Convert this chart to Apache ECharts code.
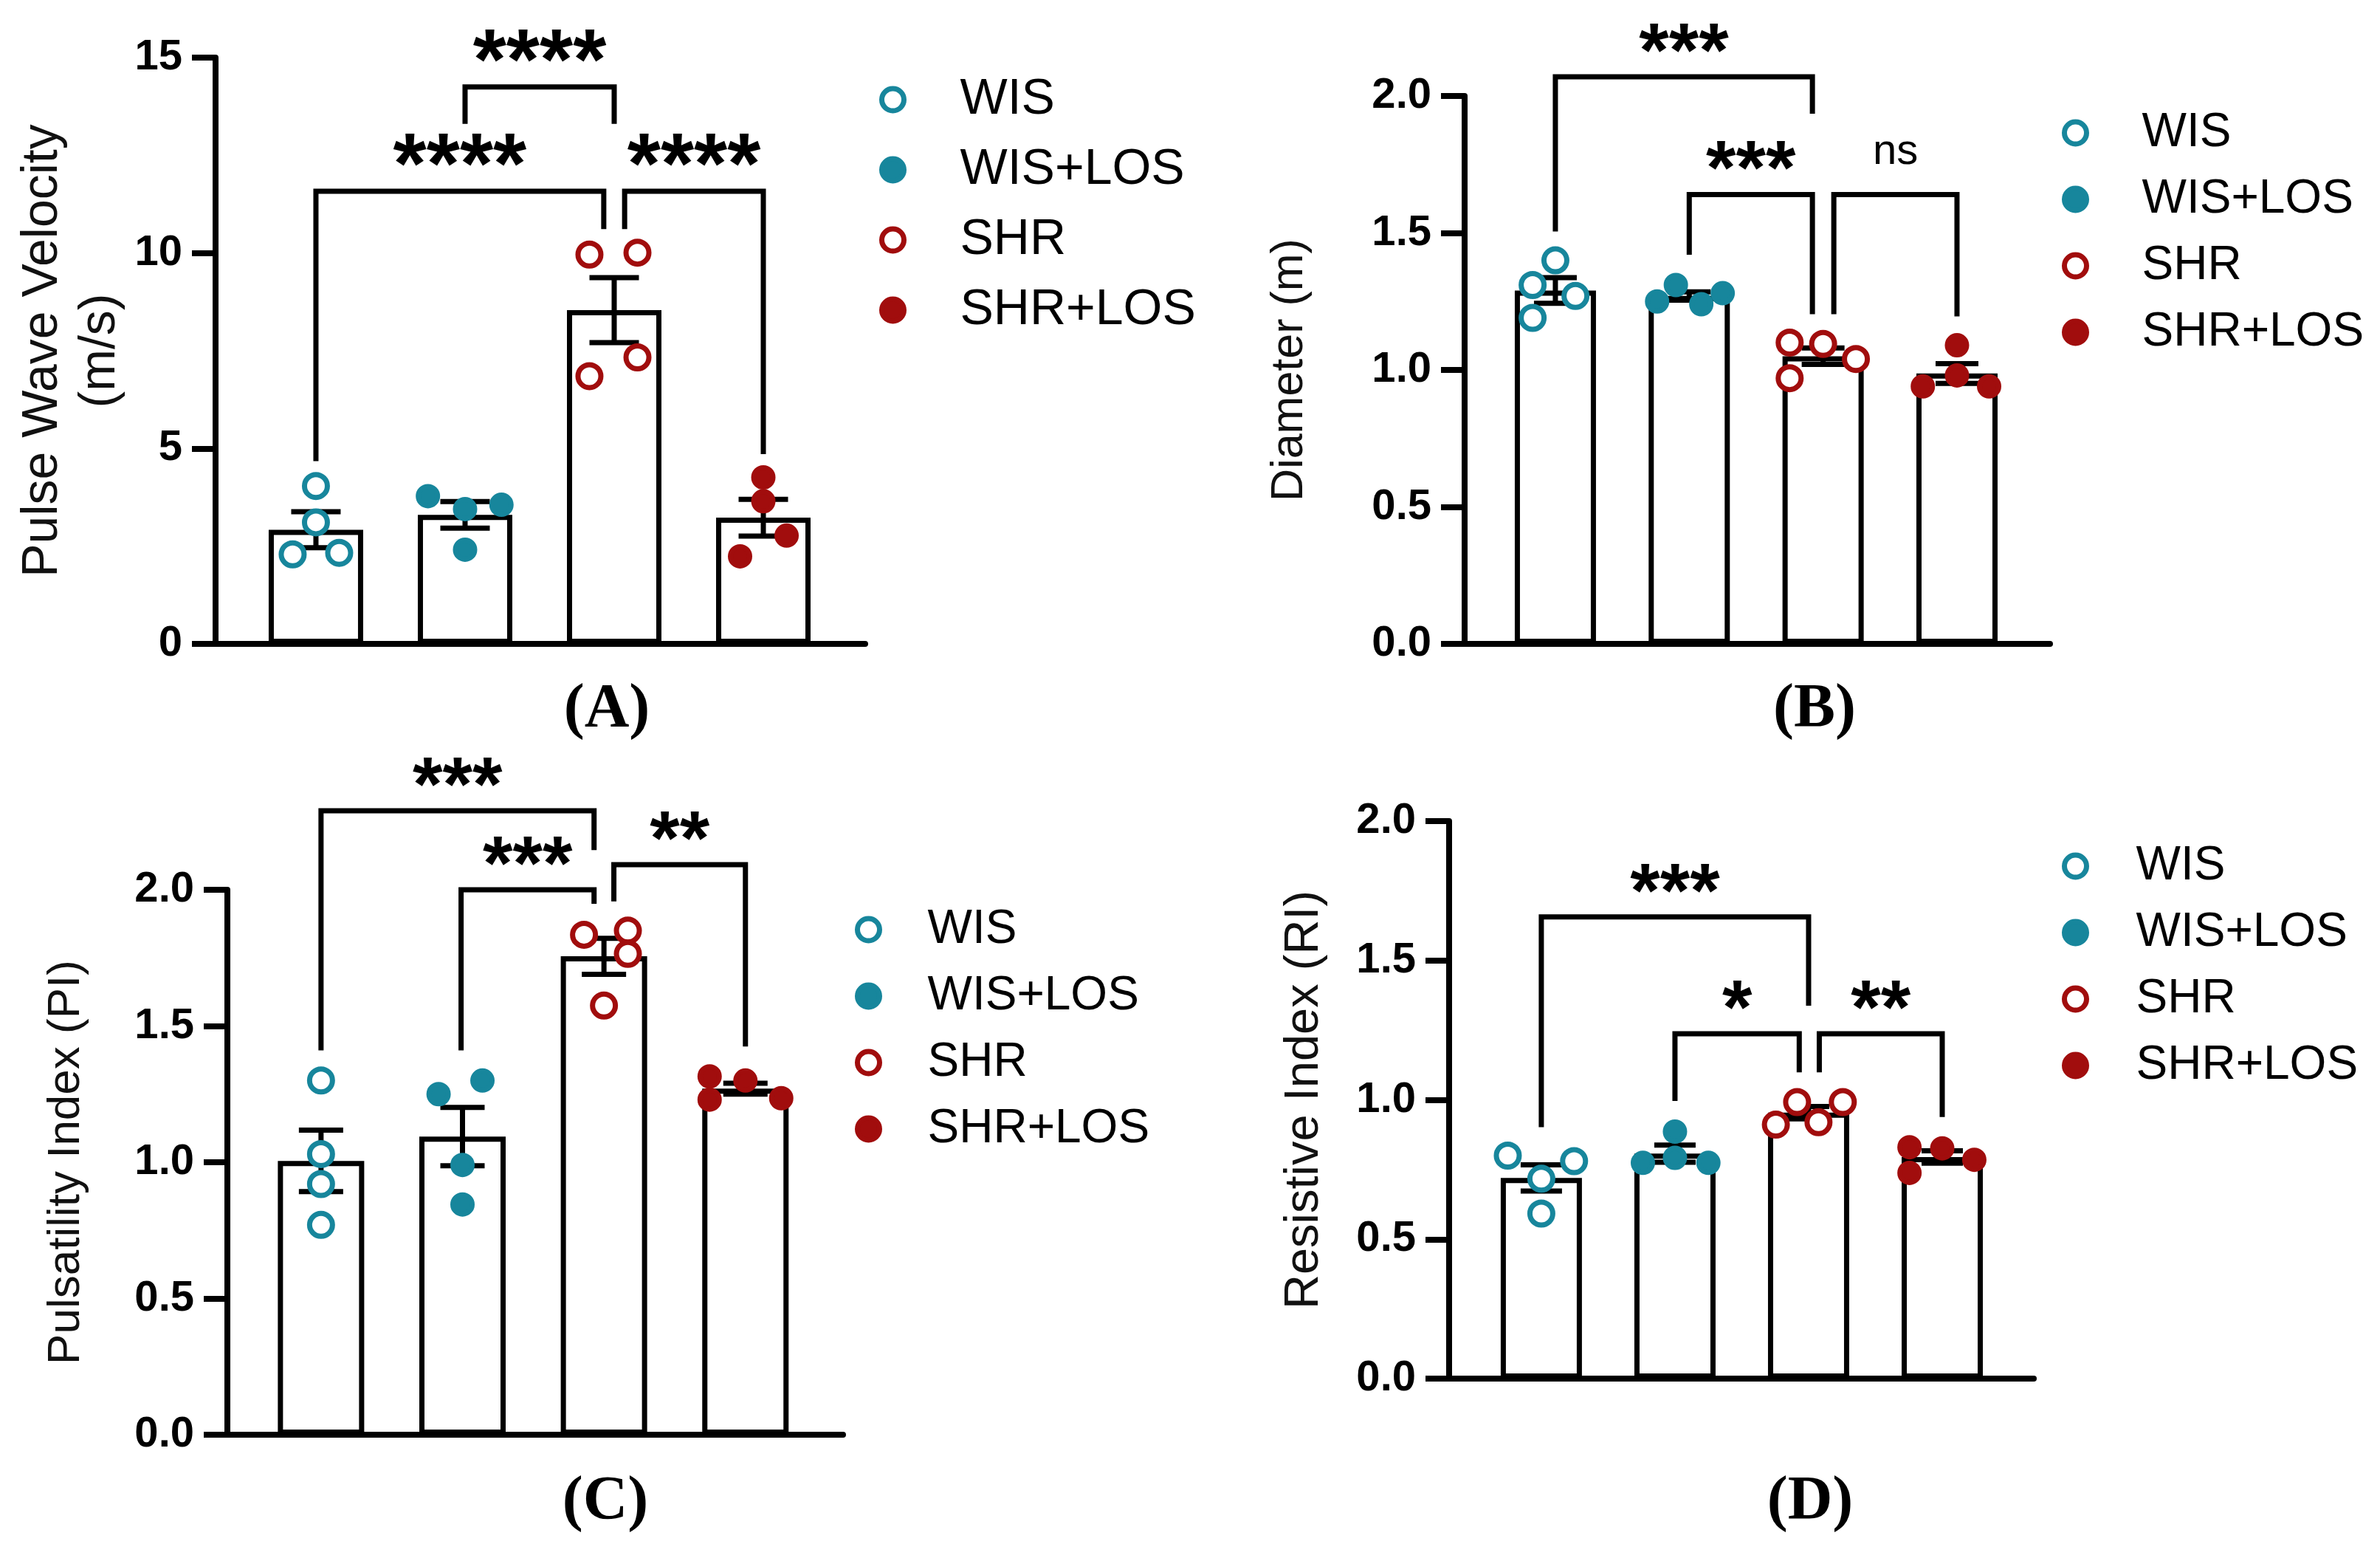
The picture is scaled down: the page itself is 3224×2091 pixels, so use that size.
<!DOCTYPE html>
<html>
<head>
<meta charset="utf-8">
<script src="https://cdn.jsdelivr.net/npm/echarts@6/dist/echarts.min.js"></script>
<style>
html,body{margin:0;padding:0;background:#fff;}
#chart{width:3224px;height:2091px;}
</style>
</head>
<body>
<div id="chart"></div>
<script>
// ---------- DATA ----------
const groups = ['WIS', 'WIS+LOS', 'SHR', 'SHR+LOS'];

// (A) Pulse Wave Velocity (m/s)
const pwvMean   = [2.92, 3.30, 8.54, 3.23];
const pwvSem    = [0.46, 0.34, 0.83, 0.47];
const pwvWIS    = [4.04, 3.11, 2.29, 2.33];
const pwvWISLOS = [3.78, 3.45, 3.56, 2.41];
const pwvSHR    = [9.96, 10.01, 7.33, 6.85];
const pwvSHRLOS = [4.26, 3.65, 2.77, 2.24];
const pwvTicks  = [0, 5, 10, 15];
const pwvComps  = [[1, 2, 14.25, 13.37, 13.37], [0, 1.93, 11.58, 4.74, 10.68], [2.07, 3, 11.58, 10.68, 4.92]];
const pwvLabels = ['****', '****', '****'];

// (B) Diameter (m)
const diaMean   = [1.29, 1.27, 1.05, 0.987];
const diaSem    = [0.047, 0.015, 0.03, 0.036];
const diaWIS    = [1.40, 1.31, 1.27, 1.19];
const diaWISLOS = [1.25, 1.31, 1.24, 1.28];
const diaSHR    = [1.10, 1.095, 1.04, 0.97];
const diaSHRLOS = [1.09, 0.98, 0.94, 0.94];
const diaTicks  = [0.0, 0.5, 1.0, 1.5, 2.0];
const diaComps  = [[0, 1.92, 2.07, 1.515, 1.945], [1, 1.92, 1.64, 1.43, 1.213], [2.08, 3, 1.64, 1.213, 1.205]];
const diaLabels = ['***', '***', 'ns'];

// (C) Pulsatility Index (PI)
const piMean   = [1.005, 1.094, 1.756, 1.27];
const piSem    = [0.113, 0.107, 0.066, 0.02];
const piWIS    = [1.30, 1.03, 0.92, 0.77];
const piWISLOS = [1.25, 1.30, 0.99, 0.845];
const piSHR    = [1.835, 1.85, 1.765, 1.575];
const piSHRLOS = [1.315, 1.30, 1.235, 1.23];
const piTicks  = [0.0, 0.5, 1.0, 1.5, 2.0];
const piComps  = [[0, 1.93, 2.29, 1.42, 2.155], [0.99, 1.93, 2.0, 1.42, 1.958], [2.07, 3, 2.092, 1.967, 1.434]];
const piLabels = ['***', '***', '**'];

// (D) Resistive Index (RI)
const riMean   = [0.72, 0.807, 0.954, 0.795];
const riSem    = [0.047, 0.031, 0.022, 0.022];
const riWIS    = [0.80, 0.78, 0.717, 0.592];
const riWISLOS = [0.886, 0.774, 0.792, 0.774];
const riSHR    = [0.992, 0.992, 0.911, 0.92];
const riSHRLOS = [0.83, 0.826, 0.785, 0.738];
const riTicks  = [0.0, 0.5, 1.0, 1.5, 2.0];
const riComps  = [[0, 2, 1.656, 0.911, 1.347], [1, 1.93, 1.237, 1.005, 1.108], [2.08, 3, 1.237, 1.108, 0.948]];
const riLabels = ['***', '*', '**'];

// horizontal scatter jitter of each point inside its group (category units)
const jitA = [[0, 0, -0.156, 0.156], [-0.249, 0, 0.244, 0], [-0.166, 0.156, 0.156, -0.166], [0, 0, 0.156, -0.156]];
const jitB = [[0, -0.17, 0.15, -0.17], [-0.24, -0.1, 0.09, 0.25], [-0.25, 0, 0.245, -0.25], [0, 0, -0.255, 0.24]];
const jitC = [[0, 0, 0, 0], [-0.169, 0.141, 0, 0], [-0.141, 0.169, 0.169, 0], [-0.253, 0, 0.253, -0.253]];
const jitD = [[-0.251, 0.245, 0, 0], [0, -0.24, 0, 0.25], [-0.086, 0.256, -0.245, 0.074], [-0.245, 0, 0.24, -0.245]];

// ---------- STYLE / LAYOUT ----------
const TEAL = '#17869c', RED = '#a10d0d';
const groupStyle = [
  {color: '#ffffff', border: TEAL, size: 31},
  {color: TEAL, border: TEAL, size: 26},
  {color: '#ffffff', border: RED, size: 31},
  {color: RED, border: RED, size: 26}
];
const SANS = "'Liberation Sans', Arial, Helvetica, sans-serif";

const panels = [
  {key: 'A', title: 'Pulse Wave Velocity\n(m/s)', mean: pwvMean, sem: pwvSem,
   pts: [pwvWIS, pwvWISLOS, pwvSHR, pwvSHRLOS], jit: jitA, ticks: pwvTicks, comps: pwvComps, labels: pwvLabels, dec: 0,
   grid: {left: 292, top: 78, width: 880, height: 794}, xMin: -0.673, xMax: 3.683, barW: 128, cap: 67,
   nameGap: 117, nameSize: 68, legend: {left: 1186, top: 96, w: 172, gap: 27, size: 68},
   starSize: 116, tag: {x: 822, y: 962}},
  {key: 'B', title: 'Diameter (m)', mean: diaMean, sem: diaSem,
   pts: [diaWIS, diaWISLOS, diaSHR, diaSHRLOS], jit: jitB, ticks: diaTicks, comps: diaComps, labels: diaLabels, dec: 1,
   grid: {left: 1984, top: 130, width: 793, height: 742}, xMin: -0.678, xMax: 3.695, barW: 110, cap: 58,
   nameGap: 202, nameSize: 61, legend: {left: 2788, top: 143, w: 170, gap: 26, size: 64},
   starSize: 104, tag: {x: 2458, y: 962}},
  {key: 'C', title: 'Pulsatility Index (PI)', mean: piMean, sem: piSem,
   pts: [piWIS, piWISLOS, piSHR, piSHRLOS], jit: jitC, ticks: piTicks, comps: piComps, labels: piLabels, dec: 1,
   grid: {left: 308, top: 1205, width: 834, height: 738}, xMin: -0.662, xMax: 3.69, barW: 117, cap: 60,
   nameGap: 183, nameSize: 62, legend: {left: 1153, top: 1222, w: 150, gap: 26, size: 64},
   starSize: 104, tag: {x: 820, y: 2035}},
  {key: 'D', title: 'Resistive Index (RI)', mean: riMean, sem: riSem,
   pts: [riWIS, riWISLOS, riSHR, riSHRLOS], jit: jitD, ticks: riTicks, comps: riComps, labels: riLabels, dec: 1,
   grid: {left: 1963, top: 1112, width: 792, height: 755}, xMin: -0.69, xMax: 3.685, barW: 110, cap: 56,
   nameGap: 158, nameSize: 65, legend: {left: 2788, top: 1136, w: 154, gap: 26, size: 64},
   starSize: 104, tag: {x: 2452, y: 2035}}
];

function errRender(cap) {
  return function (params, api) {
    const x = api.value(0), m = api.value(1), s = api.value(2);
    const t = api.coord([x, m + s]), b = api.coord([x, m - s]);
    const h = cap / 2, st = {stroke: '#000', lineWidth: 7};
    return {type: 'group', children: [
      {type: 'line', shape: {x1: t[0], y1: t[1], x2: b[0], y2: b[1]}, style: st},
      {type: 'line', shape: {x1: t[0] - h, y1: t[1], x2: t[0] + h, y2: t[1]}, style: st},
      {type: 'line', shape: {x1: b[0] - h, y1: b[1], x2: b[0] + h, y2: b[1]}, style: st}
    ]};
  };
}

function bracketRender(labels, starSize) {
  return function (params, api) {
    const x1 = api.value(0), x2 = api.value(1), yT = api.value(2), yL = api.value(3), yR = api.value(4);
    const pL = api.coord([x1, yL]), pTL = api.coord([x1, yT]), pTR = api.coord([x2, yT]), pR = api.coord([x2, yR]);
    const lab = labels[params.dataIndex];
    const star = lab.indexOf('*') >= 0;
    const text = star
      ? {type: 'text', x: (pTL[0] + pTR[0]) / 2, y: pTL[1] - 29,
         style: {text: lab, fontSize: starSize, fontWeight: 'bold', fontFamily: SANS, fill: '#000', align: 'center', verticalAlign: 'middle'}}
      : {type: 'text', x: (pTL[0] + pTR[0]) / 2, y: pTL[1] - 58,
         style: {text: lab, fontSize: 58, fontFamily: SANS, fill: '#000', align: 'center', verticalAlign: 'middle'}};
    return {type: 'group', children: [
      {type: 'polyline', shape: {points: [pL, pTL, pTR, pR]},
       style: {stroke: '#000', lineWidth: 7, fill: null, lineJoin: 'miter', lineCap: 'square'}},
      text
    ]};
  };
}

const option = {
  animation: false,
  backgroundColor: '#ffffff',
  grid: [], xAxis: [], yAxis: [], series: [], legend: [], graphic: []
};

panels.forEach(function (p, pi) {
  option.grid.push(Object.assign({containLabel: false}, p.grid));
  option.xAxis.push({
    gridIndex: pi, type: 'value', min: p.xMin, max: p.xMax,
    axisLine: {show: true, onZero: false, lineStyle: {color: '#000', width: 8}},
    axisTick: {show: false}, axisLabel: {show: false}, splitLine: {show: false}
  });
  const tk = p.ticks;
  option.yAxis.push({
    gridIndex: pi, type: 'value', min: tk[0], max: tk[tk.length - 1], interval: tk[1] - tk[0],
    axisLine: {show: true, onZero: false, lineStyle: {color: '#000', width: 8}},
    axisTick: {show: true, length: 32, lineStyle: {color: '#000', width: 8}},
    splitLine: {show: false},
    axisLabel: {margin: 45, color: '#000', fontSize: 58, fontWeight: 'bold', fontFamily: SANS,
      formatter: function (v) { return v.toFixed(p.dec); }},
    name: p.title, nameLocation: 'middle', nameRotate: 90, nameGap: p.nameGap,
    nameTextStyle: {fontSize: p.nameSize, fontFamily: SANS, color: '#111', lineHeight: Math.round(p.nameSize * 1.15)}
  });
  // bars (means)
  option.series.push({
    type: 'bar', xAxisIndex: pi, yAxisIndex: pi, barWidth: p.barW, z: 1, silent: true,
    data: p.mean.map(function (m, i) { return [i, m]; }),
    itemStyle: {color: '#ffffff', borderColor: '#000', borderWidth: 7}
  });
  // individual points
  groups.forEach(function (g, gi) {
    const gs = groupStyle[gi];
    option.series.push({
      name: g, type: 'scatter', xAxisIndex: pi, yAxisIndex: pi, z: 4, symbol: 'circle', symbolSize: gs.size,
      data: p.pts[gi].map(function (v, k) { return [gi + p.jit[gi][k], v]; }),
      itemStyle: {color: gs.color, borderColor: gs.border, borderWidth: 7, opacity: 1}
    });
  });
  // SEM error bars
  option.series.push({
    type: 'custom', xAxisIndex: pi, yAxisIndex: pi, z: 3, silent: true,
    data: p.mean.map(function (m, i) { return [i, m, p.sem[i]]; }),
    renderItem: errRender(p.cap)
  });
  // significance brackets
  option.series.push({
    type: 'custom', xAxisIndex: pi, yAxisIndex: pi, z: 5, silent: true, clip: false,
    data: p.comps,
    renderItem: bracketRender(p.labels, p.starSize)
  });
  option.legend.push({
    data: groups, orient: 'vertical', left: p.legend.left, top: p.legend.top,
    itemWidth: p.legend.w, itemHeight: 30, itemGap: p.legend.gap, selectedMode: false,
    itemStyle: {borderWidth: 7},
    textStyle: {fontSize: p.legend.size, fontFamily: SANS, color: '#000', lineHeight: 60}
  });
  option.graphic.push({
    type: 'text', x: p.tag.x, y: p.tag.y,
    style: {text: '(' + p.key + ')', fontSize: 84, fontWeight: 'bold', fontFamily: "'Liberation Serif', 'Times New Roman', serif",
      fill: '#000', align: 'center', verticalAlign: 'middle'}
  });
});

const chart = echarts.init(document.getElementById('chart'), null, {renderer: 'canvas'});
chart.setOption(option);
</script>
</body>
</html>
